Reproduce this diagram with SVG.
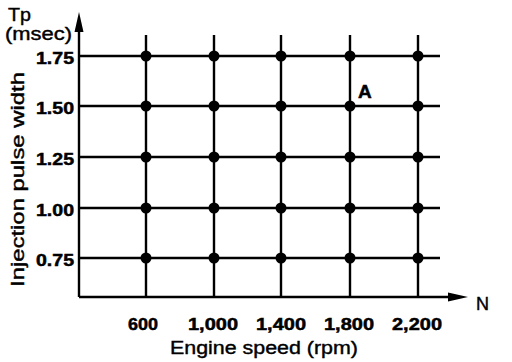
<svg xmlns="http://www.w3.org/2000/svg" width="512" height="362" viewBox="0 0 512 362">
<style>
.ln{stroke:#000;stroke-width:2.4;fill:none}
.dot{fill:#000}
.t{font-family:"Liberation Sans",Arial,sans-serif;fill:#000}
.b{font-weight:bold;font-size:17px;stroke:#000;stroke-width:0.5}
.n{font-size:18px;stroke:#000;stroke-width:0.4}
</style>
<rect width="512" height="362" fill="#fff"/>
<g id="axes">
<line class="ln" x1="79" y1="28" x2="79" y2="297"/>
<polygon points="79,12 74.5,32 83.5,32" fill="#000"/>
<line class="ln" x1="79" y1="297" x2="452" y2="297"/>
<polygon points="468,297 448,292.5 448,301.5" fill="#000"/>
</g>
<g id="grid">
<line class="ln" x1="79" y1="56" x2="440" y2="56"/>
<line class="ln" x1="79" y1="106" x2="440" y2="106"/>
<line class="ln" x1="79" y1="157" x2="440" y2="157"/>
<line class="ln" x1="79" y1="208" x2="440" y2="208"/>
<line class="ln" x1="79" y1="258" x2="440" y2="258"/>
<line class="ln" x1="146" y1="35" x2="146" y2="297"/>
<line class="ln" x1="214" y1="35" x2="214" y2="297"/>
<line class="ln" x1="281" y1="35" x2="281" y2="297"/>
<line class="ln" x1="350" y1="35" x2="350" y2="297"/>
<line class="ln" x1="418" y1="35" x2="418" y2="297"/>
</g>
<g id="points">
<g class="dot">
<circle cx="146" cy="56" r="5.5"/><circle cx="214" cy="56" r="5.5"/><circle cx="281" cy="56" r="5.5"/><circle cx="350" cy="56" r="5.5"/><circle cx="418" cy="56" r="5.5"/>
<circle cx="146" cy="106" r="5.5"/><circle cx="214" cy="106" r="5.5"/><circle cx="281" cy="106" r="5.5"/><circle cx="350" cy="106" r="5.5"/><circle cx="418" cy="106" r="5.5"/>
<circle cx="146" cy="157" r="5.5"/><circle cx="214" cy="157" r="5.5"/><circle cx="281" cy="157" r="5.5"/><circle cx="350" cy="157" r="5.5"/><circle cx="418" cy="157" r="5.5"/>
<circle cx="146" cy="208" r="5.5"/><circle cx="214" cy="208" r="5.5"/><circle cx="281" cy="208" r="5.5"/><circle cx="350" cy="208" r="5.5"/><circle cx="418" cy="208" r="5.5"/>
<circle cx="146" cy="258" r="5.5"/><circle cx="214" cy="258" r="5.5"/><circle cx="281" cy="258" r="5.5"/><circle cx="350" cy="258" r="5.5"/><circle cx="418" cy="258" r="5.5"/>
</g>
</g>
<g id="labels">
<text class="t n" x="8" y="21" textLength="23" lengthAdjust="spacingAndGlyphs">Tp</text>
<text class="t n" x="5" y="40" textLength="67" lengthAdjust="spacingAndGlyphs">(msec)</text>
<g class="t b" text-anchor="end">
<text x="74" y="64" textLength="38" lengthAdjust="spacingAndGlyphs">1.75</text>
<text x="74" y="114" textLength="38" lengthAdjust="spacingAndGlyphs">1.50</text>
<text x="74" y="165" textLength="38" lengthAdjust="spacingAndGlyphs">1.25</text>
<text x="74" y="216" textLength="38" lengthAdjust="spacingAndGlyphs">1.00</text>
<text x="74" y="266" textLength="38" lengthAdjust="spacingAndGlyphs">0.75</text>
</g>
<g class="t b" text-anchor="middle">
<text x="143" y="330" textLength="30" lengthAdjust="spacingAndGlyphs">600</text>
<text x="213" y="330" textLength="50" lengthAdjust="spacingAndGlyphs">1,000</text>
<text x="281" y="330" textLength="50" lengthAdjust="spacingAndGlyphs">1,400</text>
<text x="349" y="330" textLength="50" lengthAdjust="spacingAndGlyphs">1,800</text>
<text x="417" y="330" textLength="50" lengthAdjust="spacingAndGlyphs">2,200</text>
</g>
<text class="t n" x="170" y="354" textLength="188" lengthAdjust="spacingAndGlyphs">Engine speed (rpm)</text>
<text class="t n" transform="translate(24,287) rotate(-90)" textLength="215" lengthAdjust="spacingAndGlyphs">Injection pulse width</text>
<text class="t n" x="476" y="310">N</text>
<text class="t b" x="358" y="98" style="font-size:19px">A</text>
</g>
</svg>
